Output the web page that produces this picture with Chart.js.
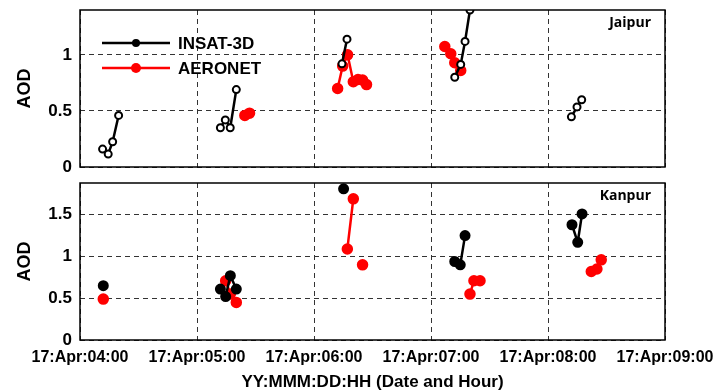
<!DOCTYPE html>
<html>
<head>
<meta charset="utf-8">
<script src="https://cdn.jsdelivr.net/npm/chart.js@4"></script>
<style>
  body { margin: 0; background: #fff; }
  #wrap { position: relative; width: 716px; height: 391px; }
  .panel { position: absolute; left: 0; width: 716px; }
  #top { top: 0; height: 175px; }
  #bottom { top: 175px; height: 216px; }
</style>
</head>
<body>
<div id="wrap">
  <div class="panel" id="top"><canvas id="jaipur"></canvas></div>
  <div class="panel" id="bottom"><canvas id="kanpur"></canvas></div>
</div>
<script>
// hour of day (17 Apr), null = break in the line
const xTickLabels = ["17:Apr:04:00", "17:Apr:05:00", "17:Apr:06:00", "17:Apr:07:00", "17:Apr:08:00", "17:Apr:09:00"];
const seriesNames = ["INSAT-3D", "AERONET"];

const jaipurInsatHours = [4.193, 4.241, 4.279, 4.33, null, 5.2, 5.242, 5.284, 5.336, null, 6.239, 6.282, null, 7.203, 7.254, 7.291, 7.333, null, 8.2, 8.248, 8.288];
const jaipurInsatAod   = [0.16, 0.115, 0.225, 0.46, null, 0.35, 0.42, 0.35, 0.69, null, 0.92, 1.14, null, 0.80, 0.915, 1.12, 1.40, null, 0.447, 0.536, 0.60];

const jaipurAeroHours = [5.409, 5.449, null, 6.202, 6.245, 6.287, 6.336, 6.376, 6.415, 6.449, null, 7.118, 7.169, 7.203, 7.254];
const jaipurAeroAod   = [0.46, 0.48, null, 0.70, 0.90, 1.0, 0.76, 0.78, 0.775, 0.735, null, 1.075, 1.01, 0.93, 0.86];

const kanpurInsatHours = [4.199, null, 5.2, 5.245, 5.285, 5.336, null, 6.253, null, 7.203, 7.25, 7.291, null, 8.205, 8.254, 8.291];
const kanpurInsatAod   = [0.65, null, 0.61, 0.52, 0.77, 0.61, null, 1.81, null, 0.94, 0.90, 1.25, null, 1.38, 1.17, 1.51];

const kanpurAeroHours = [4.199, null, 5.245, 5.285, 5.336, null, 6.285, 6.336, null, 6.415, null, 7.333, 7.367, 7.419, null, 8.37, 8.418, 8.455];
const kanpurAeroAod   = [0.49, null, 0.71, 0.55, 0.45, null, 1.09, 1.69, null, 0.90, null, 0.55, 0.71, 0.71, null, 0.82, 0.85, 0.96];

const FONT = "'Liberation Sans', Arial, sans-serif";

function pts(hours, aod) {
    return hours.map((h, i) => ({ x: h, y: aod[i] }));
}

// box around the plot
const frame = {
    id: "frame",
    afterDraw(chart) {
        const a = chart.chartArea, ctx = chart.ctx;
        ctx.save();
        ctx.strokeStyle = "#000";
        ctx.lineWidth = 1.5;
        ctx.strokeRect(a.left, a.top, a.right - a.left, a.bottom - a.top);
        ctx.restore();
    }
};

const station = {
    id: "station",
    afterDraw(chart, args, opts) {
        const a = chart.chartArea, ctx = chart.ctx;
        ctx.save();
        ctx.font = "bold 14px 'Open Sans', sans-serif";
        ctx.fillStyle = "#000";
        ctx.textAlign = "right";
        ctx.textBaseline = "middle";
        ctx.fillText(opts.text, a.right - 14, a.top + 13);
        ctx.restore();
    }
};

const insideLegend = {
    id: "insideLegend",
    afterDraw(chart, args, opts) {
        if (!opts.show) return;
        const a = chart.chartArea, ctx = chart.ctx;
        ctx.save();
        chart.data.datasets.forEach((ds, i) => {
            const y = a.top + 33 + i * 25;
            const x0 = a.left + 22, x1 = a.left + 90;
            ctx.strokeStyle = ds.borderColor;
            ctx.lineWidth = 2.5;
            ctx.beginPath(); ctx.moveTo(x0, y); ctx.lineTo(x1, y); ctx.stroke();
            ctx.fillStyle = ds.borderColor;
            ctx.beginPath(); ctx.arc((x0 + x1) / 2, y, i === 0 ? 4 : 5, 0, Math.PI * 2); ctx.fill();
            ctx.fillStyle = "#000";
            ctx.font = "bold 17px " + FONT;
            ctx.textBaseline = "middle";
            ctx.fillText(ds.label, x1 + 8, y + 1);
        });
        ctx.restore();
    }
};

function makeChart(id, insat, aero, yMax, opts) {
    const ctx = document.getElementById(id).getContext("2d");
    return new Chart(ctx, {
        type: "line",
        data: {
            datasets: [{
                label: seriesNames[0],
                data: insat,
                borderColor: "#000",
                backgroundColor: opts.openMarkers ? "#fff" : "#000",
                pointBorderColor: "#000",
                pointBorderWidth: 2,
                pointRadius: opts.openMarkers ? 3.5 : 4.5,
                borderWidth: 2.5,
                spanGaps: false
            }, {
                label: seriesNames[1],
                data: aero,
                borderColor: "#ff0000",
                backgroundColor: "#ff0000",
                pointBorderColor: "#ff0000",
                pointRadius: 4.5,
                borderWidth: 2.5,
                spanGaps: false
            }]
        },
        options: {
            responsive: true,
            maintainAspectRatio: false,
            animation: false,
            layout: { padding: { top: opts.padTop, right: 51, left: 0, bottom: 0 } },
            plugins: {
                legend: { display: false },
                tooltip: { enabled: false },
                station: { text: opts.station },
                insideLegend: { show: opts.legend }
            },
            scales: {
                x: {
                    type: "linear",
                    min: 4,
                    max: 9,
                    afterFit: s => { s.height = opts.xHeight; s.paddingLeft = 0; s.paddingRight = 0; },
                    ticks: {
                        display: opts.xLabels,
                        stepSize: 1,
                        autoSkip: false,
                        maxRotation: 0,
                        padding: 8,
                        color: "#000",
                        font: { family: FONT, size: 16, weight: "bold" },
                        callback: v => xTickLabels[Math.round(v - 4)]
                    },
                    grid: { color: "#333", lineWidth: 1, drawTicks: false },
                    border: { display: false, dash: [5, 4] },
                    title: {
                        display: opts.xLabels,
                        text: "YY:MMM:DD:HH (Date and Hour)",
                        color: "#000",
                        font: { family: FONT, size: 17, weight: "bold", lineHeight: 1 },
                        padding: { top: 0, bottom: 0 }
                    }
                },
                y: {
                    min: 0,
                    max: yMax,
                    afterFit: s => { s.width = 80; s.paddingTop = 0; s.paddingBottom = 0; },
                    afterBuildTicks: s => {
                        s.ticks = s.ticks.filter(t => Math.abs(t.value * 2 - Math.round(t.value * 2)) < 1e-6);
                    },
                    ticks: {
                        stepSize: 0.5,
                        padding: 8,
                        color: "#000",
                        font: { family: FONT, size: 17, weight: "bold" },
                        callback: v => String(v)
                    },
                    grid: { color: "#333", lineWidth: 1, drawTicks: false },
                    border: { display: false, dash: [5, 4] },
                    title: {
                        display: true,
                        text: "AOD",
                        color: "#000",
                        font: { family: FONT, size: 18, weight: "bold" },
                        padding: { top: 14, bottom: 0 }
                    }
                }
            }
        },
        plugins: [frame, station, insideLegend]
    });
}

makeChart("jaipur", pts(jaipurInsatHours, jaipurInsatAod), pts(jaipurAeroHours, jaipurAeroAod), 1.4,
    { openMarkers: true, padTop: 10, xHeight: 8, xLabels: false, station: "Jaipur", legend: true });

makeChart("kanpur", pts(kanpurInsatHours, kanpurInsatAod), pts(kanpurAeroHours, kanpurAeroAod), 1.88,
    { openMarkers: false, padTop: 8, xHeight: 51, xLabels: true, station: "Kanpur", legend: false });
</script>
</body>
</html>
